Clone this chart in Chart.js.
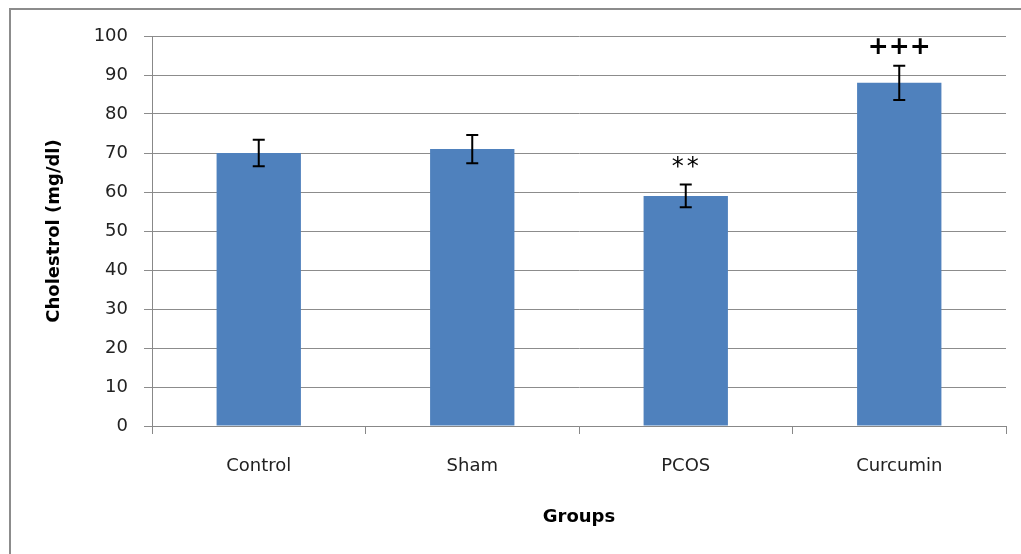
<!DOCTYPE html>
<html>
<head>
<meta charset="utf-8">
<script src="https://cdn.jsdelivr.net/npm/chart.js@4"></script>
<style>
  body { margin: 0; background: #fff; }
  #wrap { position: relative; width: 1021px; height: 554px; overflow: hidden; }
  #frame { position: absolute; left: 9px; top: 8px; width: 1030px; height: 560px; border: 2px solid #8c8c8c; box-sizing: border-box; }
  canvas { position: absolute; left: 0; top: 0; }
</style>
</head>
<body>
<div id="wrap">
  <div id="frame"></div>
  <canvas id="chart" width="1021" height="554"></canvas>
</div>
<script>
// Chart data
const groups = ['Control', 'Sham', 'PCOS', 'Curcumin'];
const cholesterol = [70, 71, 59, 88];
const errors = [3.4, 3.6, 2.9, 4.4];
const marks = ['', '', '**', '+++'];
const yTicks = [0, 10, 20, 30, 40, 50, 60, 70, 80, 90, 100];

const fontFamily = "'DejaVu Sans', Verdana, sans-serif";

// Draws the error bars and significance marks
const errorBarPlugin = {
    id: 'errorBars',
    afterDatasetsDraw(chart) {
        const ctx = chart.ctx;
        const yScale = chart.scales.y;
        const meta = chart.getDatasetMeta(0);
        ctx.save();
        meta.data.forEach((bar, i) => {
            const x = bar.x;
            const top = yScale.getPixelForValue(cholesterol[i] + errors[i]);
            const bottom = yScale.getPixelForValue(cholesterol[i] - errors[i]);
            ctx.strokeStyle = '#000';
            ctx.lineWidth = 2;
            ctx.beginPath();
            ctx.moveTo(x, top);
            ctx.lineTo(x, bottom);
            ctx.moveTo(x - 6, top);
            ctx.lineTo(x + 6, top);
            ctx.moveTo(x - 6, bottom);
            ctx.lineTo(x + 6, bottom);
            ctx.stroke();

            if (marks[i]) {
                ctx.fillStyle = '#000';
                ctx.textAlign = 'center';
                ctx.textBaseline = 'middle';
                if (marks[i].startsWith('+')) {
                    ctx.font = 'bold 25px ' + fontFamily;
                    ctx.fillText(marks[i], x, top - 18);
                } else {
                    ctx.font = '24px ' + fontFamily;
                    ctx.letterSpacing = '3px';
                    ctx.fillText(marks[i], x + 1, top - 17);
                    ctx.letterSpacing = '0px';
                }
            }
        });
        ctx.restore();
    }
};

const ctx = document.getElementById('chart').getContext('2d');
new Chart(ctx, {
    type: 'bar',
    data: {
        labels: groups,
        datasets: [{
            label: 'Cholestrol',
            data: cholesterol,
            backgroundColor: '#4f81bd',
            borderWidth: 0,
            categoryPercentage: 1,
            barPercentage: 0.395
        }]
    },
    options: {
        responsive: false,
        animation: false,
        events: [],
        layout: { padding: { left: 10, top: 36, right: 15, bottom: 0 } },
        plugins: {
            legend: { display: false },
            tooltip: { enabled: false }
        },
        scales: {
            x: {
                grid: {
                    offset: true,
                    drawOnChartArea: false,
                    color: '#888',
                    tickLength: 8,
                    lineWidth: 1
                },
                border: { color: '#888', width: 1 },
                ticks: {
                    color: '#222',
                    padding: 22,
                    font: { family: fontFamily, size: 18 }
                },
                title: {
                    display: true,
                    text: 'Groups',
                    color: '#000',
                    padding: { top: 0, bottom: 26 },
                    font: { family: fontFamily, size: 18, weight: 'bold' }
                },
                afterFit(scale) { scale.height = 128; }
            },
            y: {
                min: 0,
                max: 100,
                afterBuildTicks(scale) { scale.ticks = yTicks.map(v => ({ value: v })); },
                grid: {
                    color: '#8c8c8c',
                    tickLength: 8,
                    lineWidth: 1
                },
                border: { color: '#888', width: 1 },
                ticks: {
                    color: '#222',
                    padding: 16,
                    font: { family: fontFamily, size: 18 }
                },
                title: {
                    display: true,
                    text: 'Cholestrol (mg/dl)',
                    color: '#000',
                    padding: { top: 34, bottom: 0 },
                    font: { family: fontFamily, size: 18, weight: 'bold' }
                },
                afterFit(scale) { scale.width = 142; }
            }
        }
    },
    plugins: [errorBarPlugin]
});
</script>
</body>
</html>
